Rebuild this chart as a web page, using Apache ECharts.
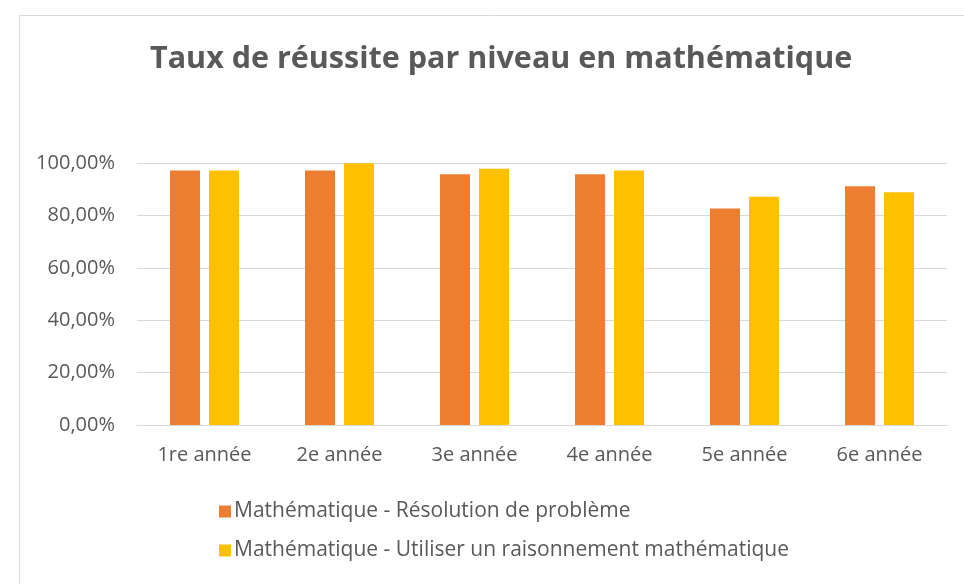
<!DOCTYPE html>
<html lang="fr">
<head>
  <meta charset="UTF-8">
  <title>Taux de réussite par niveau en mathématique</title>
  <script src="https://cdn.jsdelivr.net/npm/echarts@6/dist/echarts.min.js"></script>
  <style>
    body { margin: 0; background: #fff; }
  </style>
</head>
<body>
  <div id="main" style="width: 964px; height: 584px;"></div>

  <script>
    // Values (percent)
    const niveaux = ['1re année', '2e année', '3e année', '4e année', '5e année', '6e année'];
    const resolution = [97.1, 97.1, 95.7, 95.7, 82.6, 91.1];
    const raisonnement = [97.1, 99.9, 97.8, 97.1, 87.1, 88.8];
    const seriesNames = [
      'Mathématique - Résolution de problème',
      'Mathématique - Utiliser un raisonnement mathématique'
    ];

    const textColor = '#595959';
    const font = "'Open Sans', 'Noto Sans', sans-serif";

    let myChart = echarts.init(document.getElementById('main'));

    const options = {
      backgroundColor: '#fff',
      textStyle: { fontFamily: font },
      title: {
        text: 'Taux de réussite par niveau en mathématique',
        left: 145,
        top: 39,
        textStyle: { fontSize: 30.5, fontWeight: 'bold', color: textColor, fontFamily: font }
      },
      graphic: [{
        type: 'rect',
        left: 17, top: 13,
        shape: { width: 960, height: 600 },
        style: { fill: 'none', stroke: '#D9D9D9', lineWidth: 1 },
        silent: true
      }],
      legend: {
        orient: 'vertical',
        left: 214,
        top: 496,
        itemWidth: 12,
        itemHeight: 12,
        itemGap: 18,
        icon: 'rect',
        textStyle: { fontSize: 21, color: textColor, padding: [0, 0, 0, -2] },
        data: seriesNames
      },
      grid: { left: 137, right: 17, top: 163, bottom: 159 },
      xAxis: {
        type: 'category',
        data: niveaux,
        axisLine: { lineStyle: { color: '#D9D9D9' } },
        axisTick: { show: false },
        axisLabel: { fontSize: 20, color: textColor, margin: 20 }
      },
      yAxis: {
        type: 'value',
        min: 0,
        max: 100,
        interval: 20,
        axisLine: { show: false },
        axisTick: { show: false },
        splitLine: { lineStyle: { color: '#D9D9D9' } },
        axisLabel: {
          fontSize: 20,
          color: textColor,
          margin: 22,
          formatter: v => v.toFixed(2).replace('.', ',') + '%'
        }
      },
      series: [{
        name: seriesNames[0],
        type: 'bar',
        data: resolution,
        barWidth: 30,
        barGap: '30%',
        itemStyle: { color: '#ED7D31' }
      }, {
        name: seriesNames[1],
        type: 'bar',
        data: raisonnement,
        barWidth: 30,
        itemStyle: { color: '#FFC000' }
      }]
    };

    myChart.setOption(options);
  </script>
</body>
</html>
